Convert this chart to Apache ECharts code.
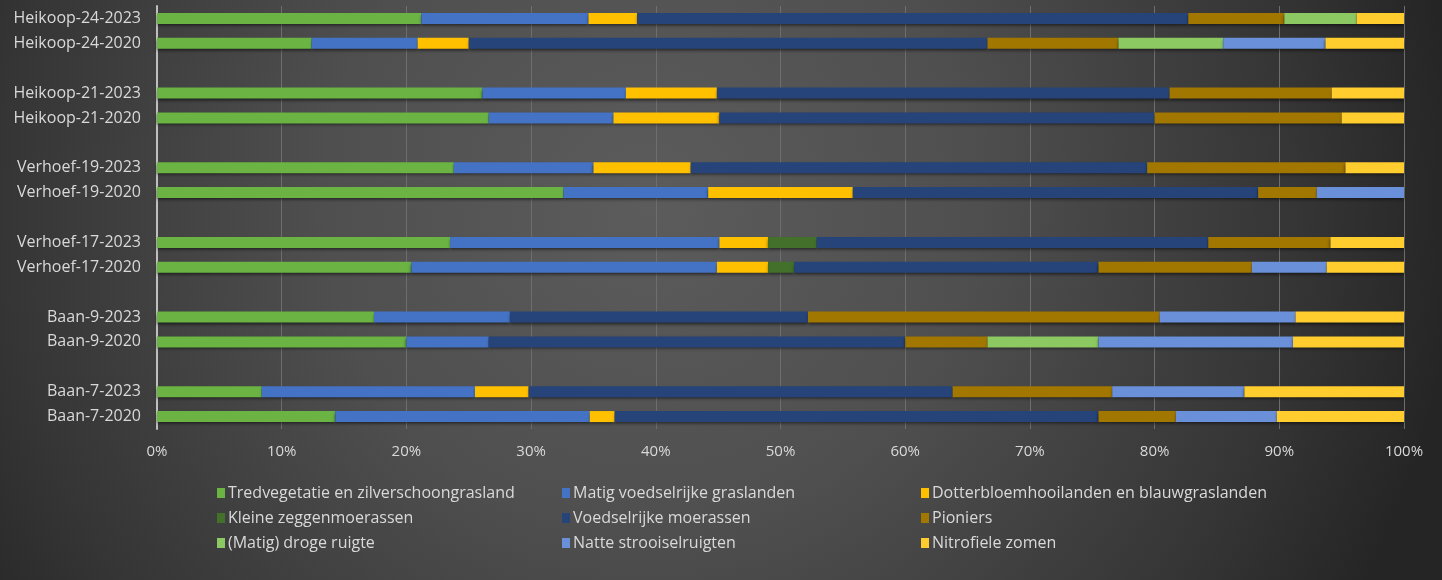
<!DOCTYPE html>
<html>
<head>
<meta charset="utf-8">
<script src="https://cdn.jsdelivr.net/npm/echarts@6/dist/echarts.min.js"></script>
<style>
  html, body { margin: 0; padding: 0; background: #333; }
  #chart { width: 1442px; height: 580px; }
</style>
</head>
<body>
<div id="chart"></div>
<script>
// categories bottom -> top, empty strings are the spacer rows
const categories = [
  'Baan-7-2020', 'Baan-7-2023', '',
  'Baan-9-2020', 'Baan-9-2023', '',
  'Verhoef-17-2020', 'Verhoef-17-2023', '',
  'Verhoef-19-2020', 'Verhoef-19-2023', '',
  'Heikoop-21-2020', 'Heikoop-21-2023', '',
  'Heikoop-24-2020', 'Heikoop-24-2023'
];

const tredvegetatie = [14.3, 8.4, null, 20.0, 17.4, null, 20.4, 23.5, null, 32.6, 23.8, null, 26.6, 26.1, null, 12.4, 21.2];
const matigGraslanden = [20.4, 17.1, null, 6.6, 10.9, null, 24.5, 21.6, null, 11.6, 11.2, null, 10.0, 11.5, null, 8.5, 13.4];
const dotterbloem = [2.0, 4.3, null, 0, 0, null, 4.1, 3.9, null, 11.6, 7.8, null, 8.5, 7.3, null, 4.1, 3.9];
const kleineZeggen = [0, 0, null, 0, 0, null, 2.1, 3.9, null, 0, 0, null, 0, 0, null, 0, 0];
const voedselrijkeMoerassen = [38.8, 34.0, null, 33.4, 23.9, null, 24.4, 31.4, null, 32.5, 36.6, null, 34.9, 36.3, null, 41.6, 44.2];
const pioniers = [6.2, 12.8, null, 6.6, 28.2, null, 12.3, 9.8, null, 4.7, 15.9, null, 15.0, 13.0, null, 10.5, 7.7];
const drogeRuigte = [0, 0, null, 8.9, 0, null, 0, 0, null, 0, 0, null, 0, 0, null, 8.4, 5.8];
const natteRuigten = [8.1, 10.6, null, 15.6, 10.9, null, 6.0, 0, null, 7.0, 0, null, 0, 0, null, 8.2, 0];
const nitrofieleZomen = [10.2, 12.8, null, 8.9, 8.7, null, 6.2, 5.9, null, 0, 4.7, null, 5.0, 5.8, null, 6.3, 3.8];

const xTicks = [0, 10, 20, 30, 40, 50, 60, 70, 80, 90, 100];

const seriesDefs = [
  { name: 'Tredvegetatie en zilverschoongrasland', data: tredvegetatie, color: '#6BB443' },
  { name: 'Matig voedselrijke graslanden', data: matigGraslanden, color: '#4473C5' },
  { name: 'Dotterbloemhooilanden en blauwgraslanden', data: dotterbloem, color: '#FFC000' },
  { name: 'Kleine zeggenmoerassen', data: kleineZeggen, color: '#43702B' },
  { name: 'Voedselrijke moerassen', data: voedselrijkeMoerassen, color: '#264479' },
  { name: 'Pioniers', data: pioniers, color: '#A27700' },
  { name: '(Matig) droge ruigte', data: drogeRuigte, color: '#8CC962' },
  { name: 'Natte strooiselruigten', data: natteRuigten, color: '#6990D9' },
  { name: 'Nitrofiele zomen', data: nitrofieleZomen, color: '#FFCD2E' }
];

const font = '"Open Sans", sans-serif';
const textColor = '#d9d9d9';

const legendBase = {
  orient: 'vertical',
  top: 480,
  itemWidth: 8,
  itemHeight: 10,
  itemGap: 9,
  icon: 'rect',
  textStyle: { color: textColor, fontSize: 16, lineHeight: 16, fontFamily: font, padding: [0, 0, 0, -2] }
};

const chart = echarts.init(document.getElementById('chart'));

chart.setOption({
  backgroundColor: {
    type: 'radial', x: 0.45, y: 0.35, r: 1.4,
    colorStops: [
      { offset: 0, color: '#5c5c5c' },
      { offset: 0.4, color: '#4f4f4f' },
      { offset: 0.8, color: '#353535' },
      { offset: 1, color: '#252525' }
    ]
  },
  animation: false,
  grid: { left: 157, right: 38, top: 6, height: 423 },
  legend: [
    Object.assign({}, legendBase, { left: 212, data: [seriesDefs[0].name, seriesDefs[3].name, seriesDefs[6].name] }),
    Object.assign({}, legendBase, { left: 557, data: [seriesDefs[1].name, seriesDefs[4].name, seriesDefs[7].name] }),
    Object.assign({}, legendBase, { left: 916, data: [seriesDefs[2].name, seriesDefs[5].name, seriesDefs[8].name] })
  ],
  xAxis: {
    type: 'value',
    min: xTicks[0],
    max: xTicks[xTicks.length - 1],
    interval: 10,
    axisLine: { show: false },
    axisTick: { show: false },
    axisLabel: {
      color: textColor, fontSize: 15, fontFamily: font, margin: 15,
      formatter: v => v + '%'
    },
    splitLine: { lineStyle: { color: '#6e6e6e', width: 1 } }
  },
  yAxis: {
    type: 'category',
    data: categories,
    axisLine: { show: true, lineStyle: { color: '#bfbfbf', width: 2 } },
    axisTick: { show: false },
    axisLabel: { color: textColor, fontSize: 16, fontFamily: font, margin: 16 }
  },
  series: seriesDefs.map(s => ({
    name: s.name,
    type: 'bar',
    stack: 'total',
    barWidth: 11,
    data: s.data,
    itemStyle: {
      color: s.color,
      shadowColor: 'rgba(0,0,0,0.55)',
      shadowBlur: 3,
      shadowOffsetY: 2
    }
  }))
});
</script>
</body>
</html>
